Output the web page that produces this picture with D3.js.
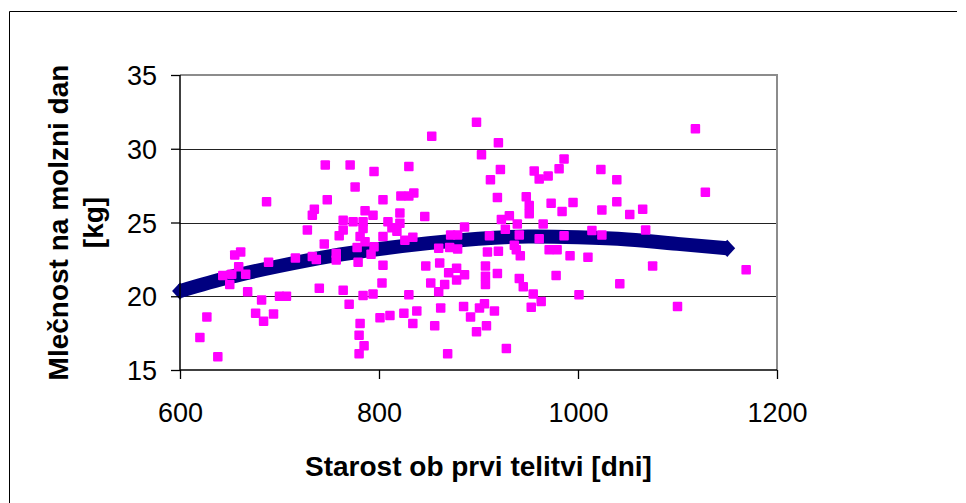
<!DOCTYPE html>
<html>
<head>
<meta charset="utf-8">
<script src="https://cdn.jsdelivr.net/npm/d3@7/dist/d3.min.js"></script>
<style>
  body { margin: 0; background: #fff; }
  svg { display: block; }
  text { font-family: Arial, 'Liberation Sans', sans-serif; fill: #000; }
  .tick-label { font-size: 27px; }
  .title { font-size: 28px; font-weight: bold; }
</style>
</head>
<body>
<svg id="chart" width="966" height="503"></svg>
<script>
const xTicks = [600, 800, 1000, 1200]
const yTicks = [15, 20, 25, 30, 35]
const xTitle = 'Starost ob prvi telitvi [dni]'
const yTitle = ['Mlečnost na molzni dan', '[kg]']

// age at first calving [days] vs daily milk yield [kg]
const ages = [
  687, 735, 733, 728, 655, 661, 689, 716, 733, 737, 659, 643, 652, 666, 650, 668, 682, 700, 707, 676,
  694, 684, 627, 620, 638, 740,
  746, 771, 795, 830, 776, 748, 804, 822, 830, 835, 786, 794, 821, 846, 764, 774, 784, 809, 821, 764,
  784, 813, 760, 781, 804, 818, 745, 786, 795, 826, 834, 778, 757, 860, 792,
  757, 779, 804, 847, 764, 770, 784, 794, 803, 830, 852, 781, 780, 785, 780, 801, 811, 825, 838, 834, 856,
  898, 853, 920, 903, 986, 922, 956, 981, 961, 970, 912, 919, 948, 951, 951, 973, 984, 995, 923, 931,
  939, 927, 965, 886, 872, 879, 911, 941, 961, 986,
  871, 879, 909, 920, 936, 938, 942, 971, 979, 992, 861, 878, 870, 886, 878, 907, 919, 907, 907, 941,
  945, 978, 866, 860, 955, 963, 953, 1001, 862, 885, 901, 906, 916, 892, 908, 898, 928, 869,
  1118, 1023, 1039, 1128, 1024, 1039, 1052, 1065, 1014, 1024, 1068, 1010, 1075, 1042, 1100, 1169
]
const milk = [
  26.4, 25.9, 25.5, 24.5, 22.8, 23.0, 22.3, 22.6, 22.7, 22.5, 22.0, 21.4, 21.5, 21.5, 20.8, 20.3, 19.75, 20.0, 20.0, 18.85,
  18.8, 18.3, 18.6, 17.2, 15.9, 20.55,
  28.9, 28.9, 28.45, 28.8, 27.4, 26.55, 26.55, 26.8, 26.8, 27.0, 25.8, 25.5, 25.65, 25.4, 25.15, 25.05, 25.05, 25.05, 24.95, 24.5,
  24.6, 24.65, 24.1, 24.05, 24.05, 24.4, 23.55, 23.7, 23.35, 23.8, 24.0, 23.3, 22.9, 23.25, 22.85,
  22.45, 22.3, 22.1, 22.05, 20.4, 19.45, 20.05, 20.15, 20.9, 20.1, 20.9, 18.15, 17.35, 16.65, 16.1, 18.55, 18.7, 18.85, 19.0, 18.15, 18.0,
  31.8, 30.85, 30.4, 29.6, 29.3, 28.6, 28.5, 28.65, 27.95, 28.15, 27.9, 26.7, 26.75, 26.15, 25.6, 26.3, 25.75, 26.35, 25.2, 25.45,
  24.9, 24.55, 24.9, 24.7, 24.15, 24.15, 24.1, 24.15, 23.9, 24.1,
  23.3, 23.2, 23.0, 23.05, 23.45, 23.15, 22.75, 23.15, 23.15, 22.75, 22.25, 21.9, 21.6, 21.45, 21.1, 22.05, 21.55, 21.35, 20.8, 21.2,
  20.65, 21.4, 20.8, 20.3, 20.15, 19.65, 19.25, 20.1, 19.2, 19.3, 19.2, 19.5, 19.0, 18.6, 18.0, 17.6, 16.45, 16.1,
  31.35, 28.6, 27.9, 27.05, 25.85, 26.4, 25.55, 25.9, 24.45, 24.15, 24.5, 22.65, 22.05, 20.85, 19.3, 21.8
]
// polynomial trend as it appears in the picture
const trendAges = [600, 650, 700, 750, 800, 850, 900, 950, 1000, 1050, 1100, 1150]
const trendMilk = [20.35, 21.3, 22.05, 22.7, 23.2, 23.6, 23.9, 24.05, 24.0, 23.85, 23.55, 23.25]

const points = ages.map((a, i) => ({ x: a, y: milk[i] }))
const trend = trendAges.map((a, i) => ({ x: a, y: trendMilk[i] }))

const svg = d3.select('#chart')
    , plotLeft = 180
    , plotRight = 777
    , plotTop = 75
    , plotBottom = 370
    , scaleX = d3.scaleLinear().domain([600, 1200]).range([plotLeft, plotRight])
    , scaleY = d3.scaleLinear().domain([15, 35]).range([plotBottom, plotTop])

// outer chart border (only top and left visible)
svg.append('path')
    .attr('d', 'M957,11.5 H9.5 V503')
    .attr('fill', 'none')
    .attr('stroke', '#000')
    .attr('stroke-width', 1)

// gridlines
svg.selectAll('line.grid')
    .data(yTicks.filter(t => t > 15 && t < 35))
    .join('line')
    .attr('class', 'grid')
    .attr('x1', plotLeft)
    .attr('x2', plotRight)
    .attr('y1', d => Math.round(scaleY(d)) + 0.5)
    .attr('y2', d => Math.round(scaleY(d)) + 0.5)
    .attr('stroke', '#222')
    .attr('stroke-width', 1)

// plot area border top/right (grey)
svg.append('path')
    .attr('d', `M${plotLeft},${plotTop} H${plotRight} V${plotBottom}`)
    .attr('fill', 'none')
    .attr('stroke', '#8c8c8c')
    .attr('stroke-width', 2)

// trend line
const line = d3.line()
    .x(d => scaleX(d.x))
    .y(d => scaleY(d.y))
    .curve(d3.curveNatural)
svg.append('path')
    .datum(trend)
    .attr('d', line)
    .attr('fill', 'none')
    .attr('stroke', '#000080')
    .attr('stroke-width', 14)
svg.selectAll('path.trend-end')
    .data([trend[0], trend[trend.length - 1]])
    .join('path')
    .attr('class', 'trend-end')
    .attr('d', d3.symbol(d3.symbolDiamond, 85))
    .attr('transform', d => `translate(${scaleX(d.x)},${scaleY(d.y)}) scale(1.6,1)`)
    .attr('fill', '#000080')

// scatter points
const size = 9.5
svg.selectAll('rect.pt')
    .data(points)
    .join('rect')
    .attr('class', 'pt')
    .attr('x', d => scaleX(d.x) - size / 2)
    .attr('y', d => scaleY(d.y) - size / 2)
    .attr('width', size)
    .attr('height', size)
    .attr('rx', 1)
    .attr('fill', '#ff00ff')

// axes
const axisX = d3.axisBottom(scaleX).tickValues(xTicks).tickSize(9).tickFormat(d3.format('d'))
const axisY = d3.axisLeft(scaleY).tickValues(yTicks).tickSize(9).tickFormat(d3.format('d'))

const gx = svg.append('g')
    .attr('transform', `translate(0,${plotBottom})`)
    .call(axisX)
gx.select('.domain').attr('stroke', '#000').attr('stroke-width', 1.5).attr('d', `M${plotLeft},0 H${plotRight}`)
gx.selectAll('.tick line').attr('stroke', '#000').attr('stroke-width', 1.3)
gx.selectAll('.tick text')
    .attr('class', 'tick-label')
    .attr('y', 52).attr('dy', null)

const gy = svg.append('g')
    .attr('transform', `translate(${plotLeft},0)`)
    .call(axisY)
gy.select('.domain').attr('stroke', '#000').attr('stroke-width', 1.5).attr('d', `M0,${plotTop} V${plotBottom}`)
gy.selectAll('.tick line').attr('stroke', '#000').attr('stroke-width', 1.3)
gy.selectAll('.tick text')
    .attr('class', 'tick-label')
    .attr('x', -23).attr('dy', '0.36em')
svg.selectAll('.tick text').attr('font-family', null).attr('font-size', null).attr('fill', '#000')

// titles
svg.append('text')
    .attr('class', 'title')
    .attr('x', (plotLeft + plotRight) / 2)
    .attr('y', 476)
    .attr('text-anchor', 'middle')
    .text(xTitle)

svg.append('text')
    .attr('class', 'title')
    .attr('transform', `translate(68,${(plotTop + plotBottom) / 2}) rotate(-90)`)
    .attr('text-anchor', 'middle')
    .text(yTitle[0])
svg.append('text')
    .attr('class', 'title')
    .attr('transform', `translate(103,${(plotTop + plotBottom) / 2}) rotate(-90)`)
    .attr('text-anchor', 'middle')
    .text(yTitle[1])
</script>
</body>
</html>
